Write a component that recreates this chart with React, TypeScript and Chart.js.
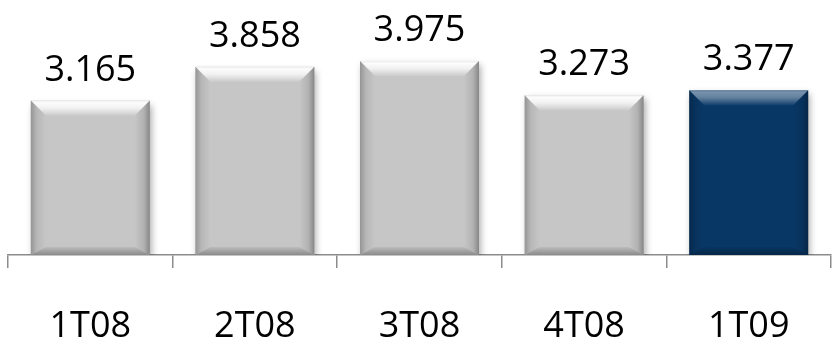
import React, { useEffect, useRef } from "react";
import { Chart, registerables } from "chart.js";

Chart.register(...registerables);

const categories = ["1T08", "2T08", "3T08", "4T08", "1T09"];
const values = [3.165, 3.858, 3.975, 3.273, 3.377];
const highlighted = "1T09";

const FONT = '"Open Sans", "Noto Sans", sans-serif';
const FONT_WEIGHT = 400;
const GREY = "#c6c6c6";
const NAVY = "#083766";

const bevelPlugin = {
  id: "bevel",
  beforeDatasetsDraw(chart: any) {
    const ctx = chart.ctx;
    ctx.save();
    ctx.shadowColor = "rgba(0,0,0,0.35)";
    ctx.shadowBlur = 7;
    ctx.shadowOffsetX = 2;
    ctx.shadowOffsetY = 4;
  },
  afterDatasetsDraw(chart: any) {
    const ctx = chart.ctx;
    ctx.restore();
    const meta = chart.getDatasetMeta(0);
    meta.data.forEach((bar: any, i: number) => {
      const { x, y, base, width } = bar.getProps(["x", "y", "base", "width"], true);
      const dark = categories[i] === highlighted;
      const hi = dark ? 0.45 : 0.95;
      const l = x - width / 2;
      const r = x + width / 2;
      const t = y;
      const b = base;
      const bv = 15;
      const bb = 8;
      ctx.save();
      // top bevel
      let g = ctx.createLinearGradient(0, t, 0, t + bv);
      g.addColorStop(0, `rgba(255,255,255,${hi * 0.7})`);
      g.addColorStop(0.15, `rgba(255,255,255,${hi})`);
      g.addColorStop(0.5, `rgba(255,255,255,${hi * 0.8})`);
      g.addColorStop(1, `rgba(255,255,255,${hi * 0.1})`);
      ctx.fillStyle = g;
      ctx.beginPath();
      ctx.moveTo(l, t);
      ctx.lineTo(r, t);
      ctx.lineTo(r - bv, t + bv);
      ctx.lineTo(l + bv, t + bv);
      ctx.closePath();
      ctx.fill();
      // left side
      g = ctx.createLinearGradient(l, 0, l + bv, 0);
      g.addColorStop(0, "rgba(0,0,0,0.25)");
      g.addColorStop(0.4, "rgba(0,0,0,0.08)");
      g.addColorStop(1, "rgba(0,0,0,0.0)");
      ctx.fillStyle = g;
      ctx.beginPath();
      ctx.moveTo(l, t);
      ctx.lineTo(l + bv, t + bv);
      ctx.lineTo(l + bv, b - bb);
      ctx.lineTo(l, b);
      ctx.closePath();
      ctx.fill();
      // right side
      g = ctx.createLinearGradient(r, 0, r - bv, 0);
      g.addColorStop(0, "rgba(0,0,0,0.32)");
      g.addColorStop(0.4, "rgba(0,0,0,0.1)");
      g.addColorStop(1, "rgba(0,0,0,0.0)");
      ctx.fillStyle = g;
      ctx.beginPath();
      ctx.moveTo(r, t);
      ctx.lineTo(r - bv, t + bv);
      ctx.lineTo(r - bv, b - bb);
      ctx.lineTo(r, b);
      ctx.closePath();
      ctx.fill();
      // bottom
      g = ctx.createLinearGradient(0, b, 0, b - bb);
      g.addColorStop(0, "rgba(0,0,0,0.3)");
      g.addColorStop(1, "rgba(0,0,0,0.05)");
      ctx.fillStyle = g;
      ctx.beginPath();
      ctx.moveTo(l, b);
      ctx.lineTo(r, b);
      ctx.lineTo(r - bv, b - bb);
      ctx.lineTo(l + bv, b - bb);
      ctx.closePath();
      ctx.fill();
      ctx.restore();
    });
  },
};

const valueLabelPlugin = {
  id: "valueLabels",
  afterDatasetsDraw(chart: any) {
    const ctx = chart.ctx;
    const meta = chart.getDatasetMeta(0);
    ctx.save();
    ctx.font = `${FONT_WEIGHT} 36px ${FONT}`;
    ctx.fillStyle = "#000";
    ctx.textAlign = "center";
    ctx.textBaseline = "alphabetic";
    meta.data.forEach((bar: any, i: number) => {
      const v = chart.data.datasets[0].data[i] as number;
      ctx.fillText(v.toFixed(3), bar.x, bar.y - 20);
    });
    ctx.restore();
  },
};

export default function App() {
  const ref = useRef<HTMLCanvasElement | null>(null);
  useEffect(() => {
    let chart: Chart | null = null;
    let cancelled = false;
    const make = () => {
      if (cancelled || !ref.current) return;
      chart = new Chart(ref.current, {
        type: "bar",
        data: {
          labels: categories,
          datasets: [
            {
              data: values,
              backgroundColor: (c: any) =>
                categories[c.dataIndex] === highlighted ? NAVY : GREY,
              borderWidth: 0,
              categoryPercentage: 1,
              barPercentage: 0.723,
            },
          ],
        },
        options: {
          animation: false,
          responsive: false,
          maintainAspectRatio: false,
          layout: { padding: { left: 8, right: 6, top: 11, bottom: 0 } },
          plugins: { legend: { display: false }, tooltip: { enabled: false } },
          scales: {
            y: { display: false, min: 0, max: 5 },
            x: {
              afterFit: (s: any) => {
                s.height = 99;
              },
              grid: {
                display: true,
                offset: true,
                drawOnChartArea: false,
                drawTicks: true,
                tickLength: 13,
                color: "#8c8c8c",
                lineWidth: 1.5,
              },
              border: { display: true, color: "#8c8c8c", width: 1.5 },
              ticks: {
                color: "#000",
                padding: 37,
                font: { family: FONT, size: 36, weight: FONT_WEIGHT as any },
              },
            },
          },
        },
        plugins: [bevelPlugin, valueLabelPlugin],
      });
    };
    const fonts: any = (document as any).fonts;
    if (fonts && fonts.load) {
      fonts.load(`${FONT_WEIGHT} 36px "Open Sans"`).then(make, make);
    } else make();
    return () => {
      cancelled = true;
      if (chart) chart.destroy();
    };
  }, []);
  return (
    <div style={{ position: "absolute", left: 0, top: 0, width: 837, height: 354 }}>
      <canvas ref={ref} width={837} height={354} style={{ width: 837, height: 354 }} />
    </div>
  );
}
